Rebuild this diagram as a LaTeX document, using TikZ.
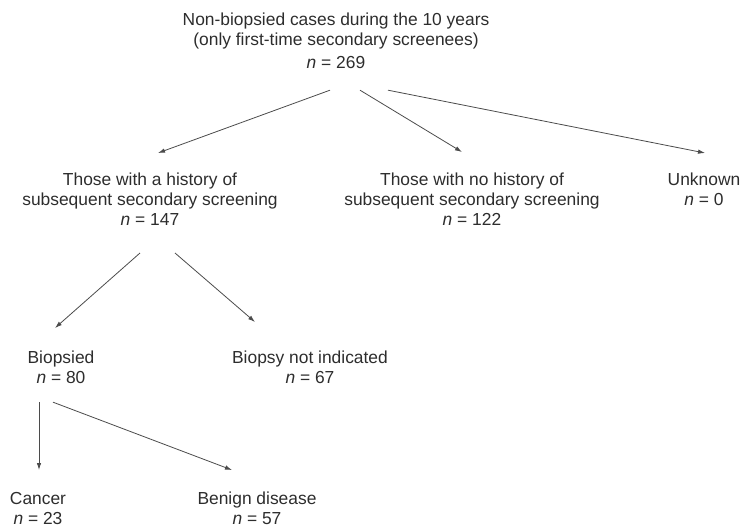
\documentclass[tikz,border=0pt]{standalone}
\usepackage{fontspec}
\setmainfont{Liberation Sans}
\usetikzlibrary{arrows.meta,positioning,calc}
\definecolor{inkgray}{RGB}{45,45,45}
\definecolor{linegray}{RGB}{75,75,75}

\begin{document}
\begin{tikzpicture}[
    x=1pt, y=-1pt,
    every node/.style={font=\fontsize{17.4}{20}\selectfont, text=inkgray},
    group/.style={align=center, inner sep=0pt, anchor=north},
    arrow/.style={-{Latex[length=7pt,width=4.5pt]}, line width=0.8pt, linegray}
]
\useasboundingbox (0,0) rectangle (744,529);

% Top - all non-biopsied cases
\node[group] (allcases) at (336,13) {Non-biopsied cases during the 10 years\\(only first-time secondary screenees)\\[3pt]\textit{n} = 269};

% Second level - screening history
\node[group] (history) at (150,173) {Those with a history of\\subsequent secondary screening\\\textit{n} = 147};

\node[group] (nohistory) at (472,173) {Those with no history of\\subsequent secondary screening\\\textit{n} = 122};

\node[group] (unknown) at (704,173) {Unknown\\\textit{n} = 0};

% Third level - biopsy
\node[group] (biopsied) at (61,351) {Biopsied\\\textit{n} = 80};

\node[group] (notindicated) at (310,351) {Biopsy not indicated\\\textit{n} = 67};

% Fourth level - diagnosis
\node[group] (cancer) at (38,492) {Cancer\\\textit{n} = 23};

\node[group] (benign) at (257,492) {Benign disease\\\textit{n} = 57};

% Arrows from the top
\draw[arrow] ($(allcases.south)+(-6,21)$) -- ($(history.north)+(8,-20)$);
\draw[arrow] ($(allcases.south)+(24,21)$) -- ($(nohistory.north)+(-10,-21)$);
\draw[arrow] ($(allcases.south)+(52,21)$) -- ($(unknown.north)+(1,-20)$);

% Arrows from history group
\draw[arrow] ($(history.south)+(-10,27)$) -- ($(biopsied.north)+(-6,-23)$);
\draw[arrow] ($(history.south)+(25,27)$) -- ($(notindicated.north)+(-55,-29)$);

% Arrows from biopsied
\draw[arrow] ($(biopsied.south)+(-22,18)$) -- ($(cancer.north)+(1,-22)$);
\draw[arrow] ($(biopsied.south)+(-8,18)$) -- ($(benign.north)+(-25,-22)$);

\end{tikzpicture}
\end{document}
